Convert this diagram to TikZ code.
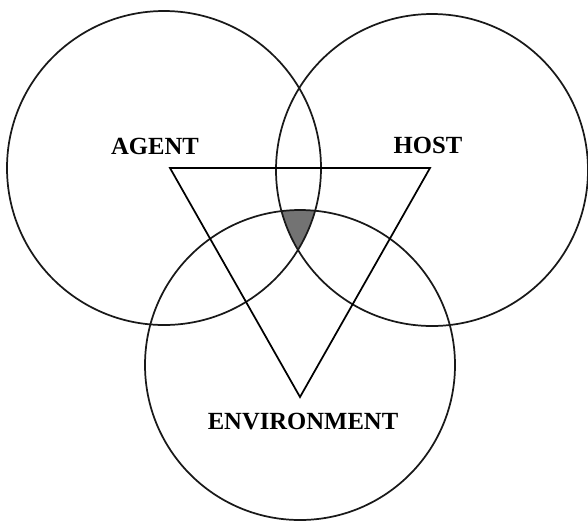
\documentclass[tikz,border=0pt]{standalone}
\usepackage{fontspec}
\setmainfont{Liberation Serif}

\tikzset{every picture/.style={line width=1.3pt}}
\tikzset{ring/.style={draw=black!90},
  label/.style={font=\bfseries\fontsize{18.5}{20}\selectfont, inner sep=0.75pt}}

\begin{document}
\begin{tikzpicture}[x=0.75pt,y=0.75pt,yscale=-1,xscale=1]
\path[use as bounding box] (0,0) rectangle (588,522);

%Shape: Circle [agent]
\coordinate (agent) at (164,168);
%Shape: Circle [host]
\coordinate (host) at (432,170);
%Shape: Circle [environment]
\coordinate (environment) at (300,365);

%Shaded common part
\begin{scope}
\clip (agent) circle (157);
\clip (host) circle (156);
\fill [black!55] (environment) circle (155);
\end{scope}

\draw [ring] (agent) circle (157);
\draw [ring] (host) circle (156);
\draw [ring] (environment) circle (155);

%Triangle
\coordinate (tl) at (170,168);
\coordinate (tr) at (430,168);
\coordinate (bt) at (300,397);
\draw [line join=miter] (tl) -- (tr) -- (bt) -- cycle ;

% Text Node
\node [label] (agentlbl) at (155,146) {AGENT};
% Text Node
\node [label] (hostlbl) at (428,145) {HOST};
% Text Node
\node [label] (envlbl) at (303,422) {ENVIRONMENT};

\end{tikzpicture}
\end{document}
